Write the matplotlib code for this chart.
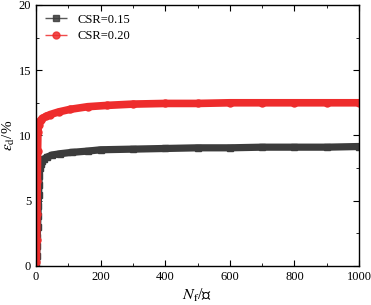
import matplotlib
matplotlib.use("Agg")
import matplotlib.pyplot as plt
from matplotlib.ticker import MultipleLocator

plt.rcParams["font.family"] = ["Liberation Serif", "Noto Sans CJK SC"]
plt.rcParams["mathtext.fontset"] = "stix"

# CSR=0.15
n_015 = [1, 2, 3, 4, 5, 6, 7, 8, 9, 10, 12, 15, 19, 25, 35, 50, 75, 110, 160,
         200, 300, 400, 500, 600, 700, 800, 900, 1000]
eps_015 = [0.2, 0.8, 1.5, 2.2, 3.0, 3.8, 4.6, 5.4, 6.2, 6.9, 7.5, 7.8, 8.05, 8.2,
           8.35, 8.5, 8.6, 8.7, 8.8, 8.9, 8.95, 9.0, 9.05, 9.05, 9.1, 9.1, 9.1,
           9.15]

# CSR=0.20
n_020 = [1, 2, 3, 4, 5, 6, 8, 10, 14, 20, 30, 44, 70, 106, 160, 220, 300, 400,
         500, 600, 700, 800, 900, 1000]
eps_020 = [0.3, 2.0, 4.0, 6.5, 8.8, 10.3, 10.8, 11.0, 11.15, 11.3, 11.45, 11.6,
           11.8, 12.0, 12.2, 12.3, 12.4, 12.45, 12.45, 12.5, 12.5, 12.5, 12.5,
           12.5]

fig = plt.figure(figsize=(3.71, 3.05), dpi=100)
ax = fig.add_axes([0.097, 0.128, 0.871, 0.856])

ax.plot(n_015, eps_015, color="#3c3c3c", lw=5.2, marker="s", ms=4.5,
        solid_capstyle="butt", label="CSR=0.15")
ax.plot(n_020, eps_020, color="#ee2c2c", lw=5.5, marker="o", ms=5,
        solid_capstyle="butt", label="CSR=0.20")

ax.set_xlim(0, 1000)
ax.set_ylim(0, 20)
ax.xaxis.set_major_locator(MultipleLocator(200))
ax.xaxis.set_minor_locator(MultipleLocator(100))
ax.yaxis.set_major_locator(MultipleLocator(5))
ax.yaxis.set_minor_locator(MultipleLocator(2.5))
ax.tick_params(which="both", direction="in", top=True, right=True, labelsize=9)
ax.tick_params(which="major", length=4)
ax.tick_params(which="minor", length=2.5)
for s in ax.spines.values():
    s.set_linewidth(1.0)

ax.set_xlabel(r"$N_\mathrm{f}$/次", fontsize=11.5, labelpad=3)
ax.set_ylabel(r"$\varepsilon_\mathrm{d}$/%", fontsize=11, labelpad=1)

leg = ax.legend(loc="upper left", frameon=False, fontsize=9, handlelength=1.8,
                borderaxespad=0.3, labelspacing=0.35)
for h in leg.get_lines():
    h.set_linewidth(1.0)
    h.set_alpha(0.85)

fig.savefig("out.png", dpi=100)
